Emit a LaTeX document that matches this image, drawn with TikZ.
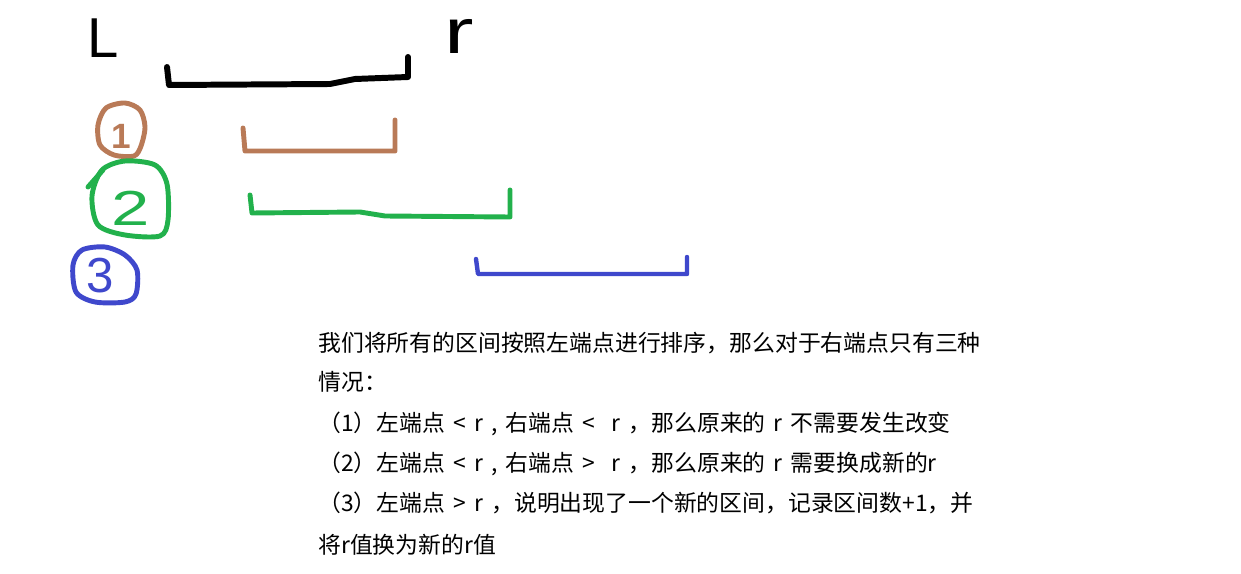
\documentclass[tikz,border=0pt]{standalone}
\usepackage{fontspec}
\newfontfamily\cjk[WordSpace=1.6]{Noto Sans CJK SC}
\newfontfamily\hand{Liberation Sans}
\definecolor{penbrown}{RGB}{185,122,87}
\definecolor{pengreen}{RGB}{34,177,76}
\definecolor{penblue}{RGB}{63,72,204}

\begin{document}
\begin{tikzpicture}[x=0.02cm, y=-0.02cm, line join=round, line cap=round,
                    every node/.style={inner sep=0pt},
                    texto/.style={anchor=west, text height=11.4pt, text depth=1.6pt,
                                  font=\cjk\fontsize{13pt}{16pt}\selectfont}]

  %--- lienzo (1 unidad = 1 pixel) ---
  \fill[white] (0,0) rectangle (1241,574);
  \def\gruesa{3.4pt}   % trazo negro
  \def\media{2.8pt}    % trazos de color

  %--- l y r del intervalo original ---
  \node[font=\hand\fontsize{32pt}{32pt}\selectfont] (labL) at (103,38) {L};
  \node[font=\hand\fontsize{36pt}{36pt}\selectfont] (labR) at (459,36) {\scalebox{1.4}[1]{r}};
  \draw[line width=\gruesa] (167,67) -- (169,85) -- (330,84) -- (355,79)
      -- (408,77) -- (408,57);

  %--- caso 1 ---
  \draw[penbrown, line width=\media] plot[smooth cycle]
      coordinates {(106,108) (125,103) (140,110) (145,127) (141,146) (134,156)
                   (114,155) (100,145) (98,125)};
  \node[penbrown, font=\hand\bfseries\fontsize{20pt}{20pt}\selectfont] (num1) at (121,136) {1};
  \draw[penbrown, line width=\media] (243,128) -- (245,151) -- (395,151) -- (395,120);

  %--- caso 2 ---
  \draw[pengreen, line width=\media] plot[smooth cycle]
      coordinates {(102,170) (125,161) (155,165) (167,184) (168,220) (160,236)
                   (125,235) (98,225) (92,196)};
  \draw[pengreen, line width=\media] (88,187) -- (103,170);
  \node[pengreen, font=\hand\fontsize{28pt}{28pt}\selectfont] (num2) at (131,208)
      {\scalebox{1.4}[1]{2}};
  \draw[pengreen, line width=\media] (250,195) -- (252,213) -- (360,212) -- (385,216)
      -- (510,217) -- (510,190);

  %--- caso 3 ---
  \draw[penblue, line width=\media] plot[smooth cycle]
      coordinates {(82,250) (105,247) (125,255) (137,270) (136,294) (125,302)
                   (95,302) (76,292) (73,265)};
  \node[penblue, font=\hand\fontsize{28pt}{28pt}\selectfont] (num3) at (100,276) {3};
  \draw[penblue, line width=2.5pt] (476,259) -- (478,274) -- (687,274) -- (687,257);

  %--- explicación ---
  \node[texto] (txt1) at (318,343) {我们将所有的区间按照左端点进行排序，那么对于右端点只有三种};
  \node[texto] (txt2) at (318,382) {情况：};
  \node[texto] (txt3) at (318,423) {（1）左端点 < r , 右端点 <\ \ r ，那么原来的 r 不需要发生改变};
  \node[texto] (txt4) at (318,463) {（2）左端点 < r , 右端点 >\ \ r ，那么原来的 r 需要换成新的r};
  \node[texto] (txt5) at (318,503) {（3）左端点 > r ，说明出现了一个新的区间，记录区间数+1，并};
  \node[texto] (txt6) at (318,545) {将r值换为新的r值};

\end{tikzpicture}
\end{document}
